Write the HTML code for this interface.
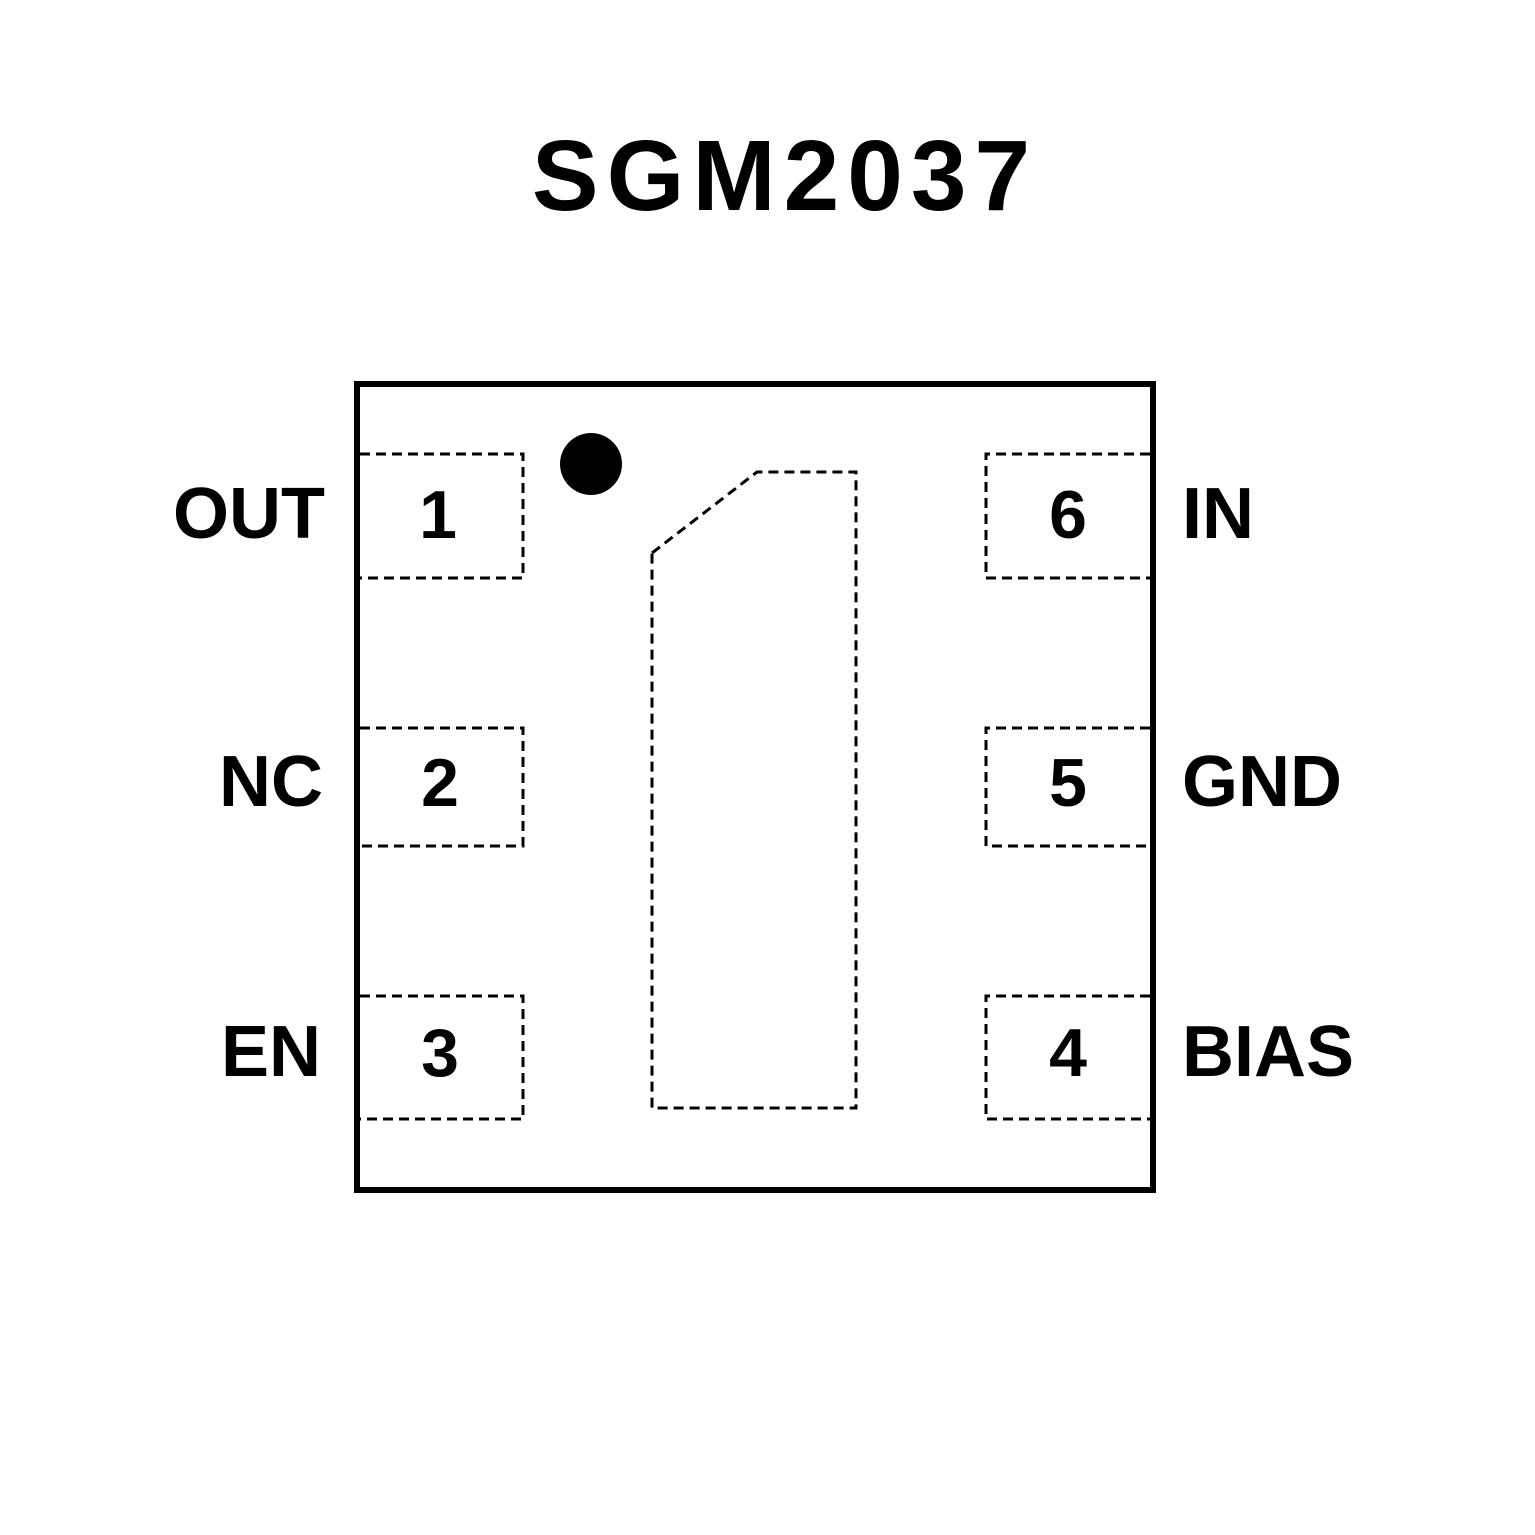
<!DOCTYPE html>
<html><head><meta charset="utf-8"><style>
html,body{margin:0;padding:0;background:#fff;}
svg{display:block;}
</style></head><body>
<svg width="1535" height="1535" viewBox="0 0 1535 1535" xmlns="http://www.w3.org/2000/svg">
<rect width="1535" height="1535" fill="#fff"/>
<text x="785" y="210" text-anchor="middle" font-family="Liberation Sans, sans-serif" font-weight="bold" font-size="100" letter-spacing="8" fill="#000">SGM2037</text>
<rect x="357" y="384" width="796" height="806" fill="none" stroke="#000" stroke-width="6"/>
<g fill="none" stroke="#000" stroke-width="3" stroke-dasharray="10,6">
<polyline points="360,454 523,454 523,578 360,578"/>
<polyline points="360,728 523,728 523,846 360,846"/>
<polyline points="360,996 523,996 523,1119 360,1119"/>
<polyline points="1150,454 986,454 986,578 1150,578"/>
<polyline points="1150,728 986,728 986,846 1150,846"/>
<polyline points="1150,996 986,996 986,1119 1150,1119"/>
<polygon points="652,553 757,472 856,472 856,1108 652,1108"/>
</g>
<circle cx="591" cy="464" r="31" fill="#000"/>
<g font-family="Liberation Sans, sans-serif" font-weight="bold" fill="#000">
<g font-size="68" text-anchor="middle">
<text x="438" y="538">1</text>
<text x="440" y="806">2</text>
<text x="440" y="1076">3</text>
<text x="1068" y="538">6</text>
<text x="1068" y="806">5</text>
<text x="1068" y="1076">4</text>
</g>
<g font-size="72" text-anchor="end">
<text x="325" y="538">OUT</text>
<text x="323" y="806">NC</text>
<text x="321" y="1076">EN</text>
</g>
<g font-size="72">
<text x="1182" y="538">IN</text>
<text x="1182" y="806">GND</text>
<text x="1182" y="1076">BIAS</text>
</g>
</g>
</svg>
</body></html>
